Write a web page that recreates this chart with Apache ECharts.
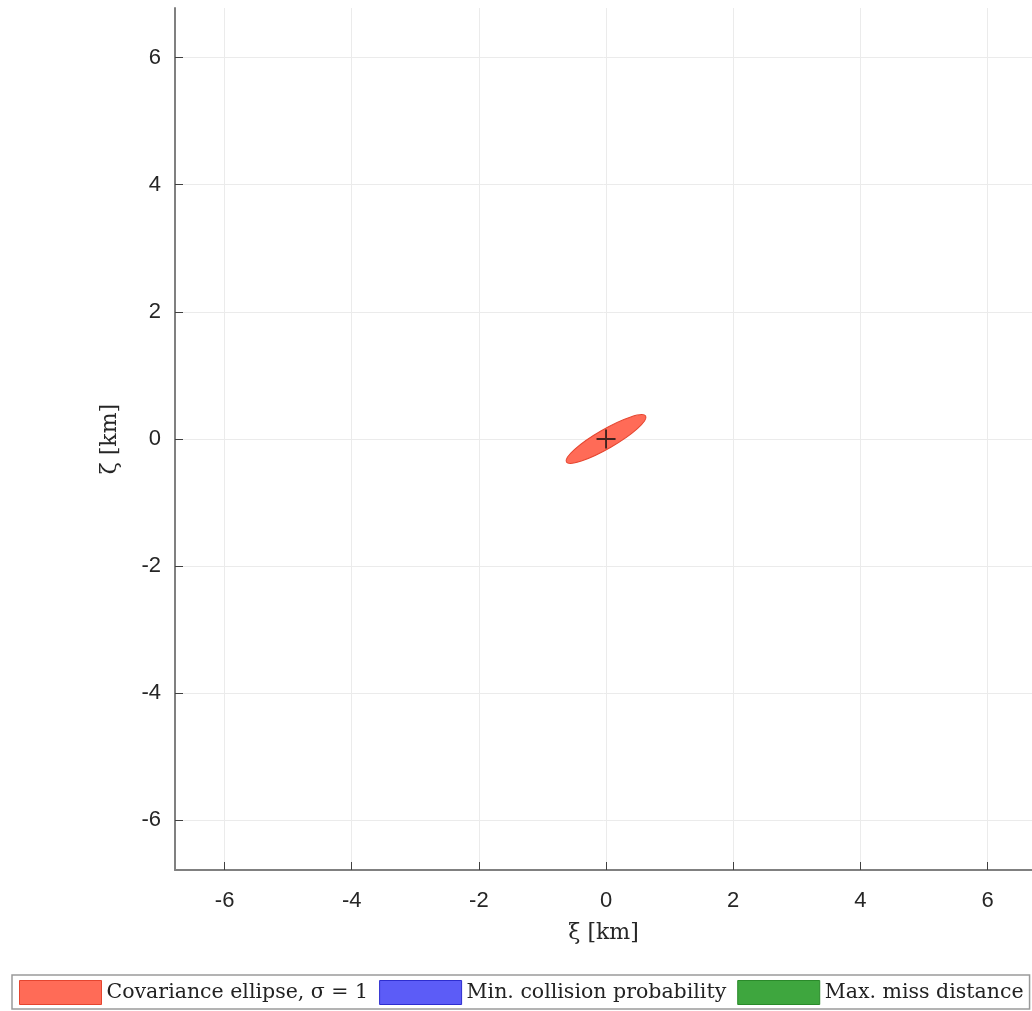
<!DOCTYPE html>
<html>
<head>
<meta charset="utf-8">
<script src="https://cdn.jsdelivr.net/npm/echarts@6/dist/echarts.min.js"></script>
<style>
html,body{margin:0;padding:0;background:#fff;}
#chart{width:1032px;height:1011px;}
</style>
</head>
<body>
<div id="chart"></div>
<script>
// Axis extents and tick labels
const xMin = -6.78;
const xMax = 6.70;
const yMin = -6.78;
const yMax = 6.78;
const tickValues = [-6, -4, -2, 0, 2, 4, 6];

// Covariance ellipse: [centerXi, centerZeta, semiMajor, semiMinor, angleDeg]
const ellipseData = [[0, 0, 0.72, 0.15, 30]];
// Nominal relative position marker
const centerPoint = [[0, 0]];

// Legend entries
const legendNames = ['Covariance ellipse, \u03c3 = 1', 'Min. collision probability', 'Max. miss distance'];
const legendFills = ['#ff6b57', '#5c5cf7', '#3ea63e'];
const legendBorders = ['#e5452f', '#2e2ecf', '#2a8a2a'];

const chart = echarts.init(document.getElementById('chart'), null, {renderer: 'canvas'});

const tickFont = {fontFamily: 'Liberation Sans', fontSize: 22, color: '#262626'};
const nameFont = {fontFamily: 'DejaVu Serif', fontSize: 22, color: '#262626'};

function makeAxis(name, min, max, gap, labelMargin) {
  return {
    type: 'value',
    min: min,
    max: max,
    splitNumber: 7,
    name: name,
    nameLocation: 'middle',
    nameGap: gap,
    nameTextStyle: nameFont,
    axisLine: {show: true, onZero: false, lineStyle: {color: '#808080', width: 2}},
    axisTick: {show: true, inside: true, length: 8, customValues: tickValues, lineStyle: {color: '#404040', width: 1}},
    axisLabel: Object.assign({customValues: tickValues, margin: labelMargin}, tickFont),
    splitLine: {show: true, lineStyle: {color: '#ebebeb', width: 1}}
  };
}

chart.setOption({
  backgroundColor: '#ffffff',
  animation: false,
  grid: {left: 175, top: 8, right: 0, bottom: 141, containLabel: false},
  xAxis: makeAxis('\u03be [km]', xMin, xMax, 52, 20),
  yAxis: makeAxis('\u03b6 [km]', yMin, yMax, 54, 14),
  legend: {
    left: 12,
    top: 975,
    orient: 'horizontal',
    itemWidth: 82,
    itemHeight: 24,
    itemGap: 11,
    padding: [5, 6, 4, 7],
    borderColor: '#9a9a9a',
    borderWidth: 1.5,
    backgroundColor: '#ffffff',
    icon: 'rect',
    textStyle: {fontFamily: 'DejaVu Serif', fontSize: 20.5, color: '#222'},
    data: legendNames.map((n, i) => ({name: n, itemStyle: {color: legendFills[i], borderColor: legendBorders[i], borderWidth: 1}}))
  },
  series: [
    {
      name: legendNames[0],
      type: 'custom',
      data: ellipseData,
      itemStyle: {color: legendFills[0]},
      renderItem: function (params, api) {
        const c = api.coord([api.value(0), api.value(1)]);
        const rx = api.size([api.value(2), 0])[0];
        const ry = api.size([0, api.value(3)])[1];
        return {
          type: 'ellipse',
          x: c[0], y: c[1],
          rotation: api.value(4) * Math.PI / 180,
          shape: {cx: 0, cy: 0, rx: rx, ry: ry},
          style: {fill: legendFills[0], stroke: legendBorders[0], lineWidth: 1}
        };
      },
      z: 2
    },
    {
      name: legendNames[1],
      type: 'custom',
      data: [],
      itemStyle: {color: legendFills[1]},
      renderItem: function () { return null; }
    },
    {
      name: legendNames[2],
      type: 'custom',
      data: [],
      itemStyle: {color: legendFills[2]},
      renderItem: function () { return null; }
    },
    {
      name: 'center',
      type: 'scatter',
      data: centerPoint,
      symbol: 'path://M9,0h2v9h9v2h-9v9h-2v-9h-9v-2h9z',
      symbolSize: 19,
      itemStyle: {color: '#111'},
      z: 5
    }
  ]
});
</script>
</body>
</html>
